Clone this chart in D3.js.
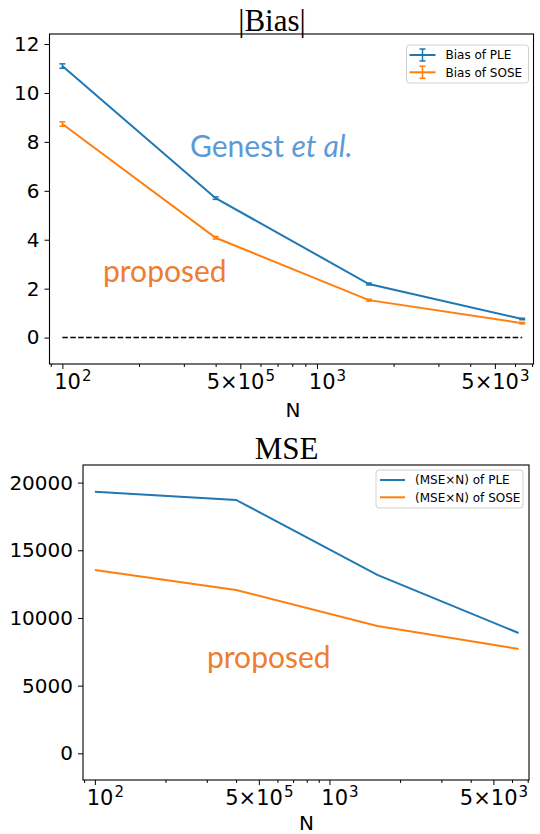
<!DOCTYPE html>
<html>
<head>
<meta charset="utf-8">
<script src="https://cdn.jsdelivr.net/npm/d3@7"></script>
<style>
	body { margin: 0; background: #fff; }
	svg text { font-family: "DejaVu Sans", sans-serif; fill: #000; }
	.tick text { font-size: 20px; }
	.x.axis .tick text { font-size: 21px; }
	.graphtitle { font-family: "Liberation Serif", serif !important; font-size: 31px; }
	.axistitle { font-size: 20px; }
	.legendtext { font-size: 12px; }
	.note { font-family: Lato, sans-serif !important; }
</style>
</head>
<body>
<svg class="figure" width="540" height="834"></svg>
<script>
/* Two panels: |Bias| with error bars and MSE x N, both against N on a log axis */

// sample sizes and estimates
var sampleN = [100, 400, 1600, 6400];
var biasPLE = [11.1, 5.70, 2.19, 0.76];
var biasPLEErr = [0.09, 0.05, 0.04, 0.03];
var biasSOSE = [8.73, 4.08, 1.53, 0.59];
var biasSOSEErr = [0.09, 0.05, 0.04, 0.03];
var mseNPLE = [19330, 18720, 13180, 8890];
var mseNSOSE = [13550, 12070, 9410, 7710];

// tick values and labels
var biasTicks = [0, 2, 4, 6, 8, 10, 12];
var mseTicks = [0, 5000, 10000, 15000, 20000];
var nTicks = [100, 500, 1000, 5000];
var nTickLabels = [["10", "2"], ["5×10", "5"], ["10", "3"], ["5×10", "3"]];

var blue = "#1f77b4",
	orange = "#ff7f0e";

var svg = d3.select(".figure");

drawPanel({
	box: { left: 49.5, top: 34, right: 533.5, bottom: 364 },
	yDomain: [-1.08, 12.41],
	yTicks: biasTicks,
	title: "|Bias|", titleX: 272, titleY: 31,
	xLabelX: 293, xLabelY: 417,
	series: [
		{ name: "Bias of PLE", values: biasPLE, err: biasPLEErr, color: blue },
		{ name: "Bias of SOSE", values: biasSOSE, err: biasSOSEErr, color: orange }
	],
	zeroLine: true,
	legend: { x: 406.5, y: 45, w: 122, h: 38, lineX: 3, lineW: 26, textX: 39, rowY: 10, rowH: 17.3 },
	notes: [
		{ parts: [["Genest ", "normal"], ["et al.", "italic"]], x: 190, y: 157, size: 30, color: "#5b9bd5" },
		{ parts: [["proposed", "normal"]], x: 103, y: 282, size: 30, color: "#ed7d31" }
	]
});

drawPanel({
	box: { left: 83, top: 465, right: 529, bottom: 780 },
	yDomain: [-1970, 21300],
	yTicks: mseTicks,
	title: "MSE", titleX: 286.5, titleY: 459,
	xLabelX: 306.5, xLabelY: 830,
	series: [
		{ name: "(MSE×N) of PLE", values: mseNPLE, color: blue },
		{ name: "(MSE×N) of SOSE", values: mseNSOSE, color: orange }
	],
	zeroLine: false,
	legend: { x: 376, y: 470, w: 147, h: 38, lineX: 4, lineW: 25, textX: 39, rowY: 10, rowH: 17.3 },
	notes: [
		{ parts: [["proposed", "normal"]], x: 207, y: 668, size: 30, color: "#ed7d31" }
	]
});


// Draw one panel from its layout options
function drawPanel(o) {

	var b = o.box;

	var x = d3.scaleLog()
		.domain([89, 7090])
		.range([b.left, b.right]);

	var y = d3.scaleLinear()
		.domain(o.yDomain)
		.range([b.bottom, b.top]);

	var g = svg.append("g");

	// minor ticks (every 1..9 x 10^k)
	var minor = x.ticks().filter(function(v) { return nTicks.indexOf(v) < 0; });
	g.append("g")
		.attr("transform", "translate(0," + b.bottom + ")")
		.call(d3.axisBottom(x).tickValues(minor).tickSize(3).tickFormat(""))
		.call(function(s) { s.select(".domain").remove(); });

	// labelled ticks
	var xAxis = g.append("g")
		.attr("class", "x axis")
		.attr("transform", "translate(0," + b.bottom + ")")
		.call(d3.axisBottom(x).tickValues(nTicks).tickSize(5).tickPadding(5).tickFormat(""));
	xAxis.select(".domain").remove();
	xAxis.selectAll(".tick text").each(function(d, i) {
		var t = d3.select(this),
			lab = nTickLabels[i],
			decade = Math.abs(Math.log10(d) % 1) < 1e-9;
		t.attr("dy", "0.71em")
			.attr("dx", decade ? 10 : 0);
		t.append("tspan").text(lab[0]);
		t.append("tspan")
			.attr("font-size", "15px")
			.attr("dx", 1)
			.attr("dy", "-0.5em")
			.text(lab[1]);
	});

	// y axis
	var yAxis = g.append("g")
		.attr("class", "y axis")
		.attr("transform", "translate(" + b.left + ",0)")
		.call(d3.axisLeft(y).tickValues(o.yTicks).tickSize(5).tickPadding(5).tickFormat(d3.format("d")));
	yAxis.select(".domain").remove();

	g.selectAll(".tick line").attr("stroke", "#000").attr("stroke-width", 1);

	// frame
	g.append("rect")
		.attr("x", b.left)
		.attr("y", b.top)
		.attr("width", b.right - b.left)
		.attr("height", b.bottom - b.top)
		.attr("fill", "none")
		.attr("stroke", "#000")
		.attr("stroke-width", 1.1);

	// dashed reference line at zero
	if (o.zeroLine) {
		g.append("line")
			.attr("x1", x(sampleN[0]))
			.attr("x2", x(sampleN[sampleN.length - 1]))
			.attr("y1", y(0))
			.attr("y2", y(0))
			.attr("stroke", "#000")
			.attr("stroke-width", 1.5)
			.attr("stroke-dasharray", "5.5,2.4");
	}

	var line = d3.line()
		.x(function(d, i) { return x(sampleN[i]); })
		.y(function(d) { return y(d); });

	o.series.forEach(function(s) {
		g.append("path")
			.datum(s.values)
			.attr("fill", "none")
			.attr("stroke", s.color)
			.attr("stroke-width", 2)
			.attr("d", line);

		if (s.err) {
			var eb = g.selectAll(null)
				.data(s.values)
			  .enter().append("g")
				.attr("stroke", s.color)
				.attr("stroke-width", 1.5);
			eb.append("line")
				.attr("x1", function(d, i) { return x(sampleN[i]); })
				.attr("x2", function(d, i) { return x(sampleN[i]); })
				.attr("y1", function(d, i) { return y(d - s.err[i]); })
				.attr("y2", function(d, i) { return y(d + s.err[i]); });
			[-1, 1].forEach(function(sign) {
				eb.append("line")
					.attr("x1", function(d, i) { return x(sampleN[i]) - 3; })
					.attr("x2", function(d, i) { return x(sampleN[i]) + 3; })
					.attr("y1", function(d, i) { return y(d + sign * s.err[i]); })
					.attr("y2", function(d, i) { return y(d + sign * s.err[i]); });
			});
		}
	});

	// title
	g.append("text")
		.attr("class", "graphtitle")
		.attr("x", o.titleX)
		.attr("y", o.titleY)
		.attr("text-anchor", "middle")
		.text(o.title);

	// x axis label
	g.append("text")
		.attr("class", "axistitle")
		.attr("x", o.xLabelX)
		.attr("y", o.xLabelY)
		.attr("text-anchor", "middle")
		.text("N");

	// legend
	var L = o.legend;
	var leg = g.append("g").attr("transform", "translate(" + L.x + "," + L.y + ")");
	leg.append("rect")
		.attr("width", L.w)
		.attr("height", L.h)
		.attr("rx", 3)
		.attr("fill", "#fff")
		.attr("fill-opacity", 0.8)
		.attr("stroke", "#d0d0d0");
	o.series.forEach(function(s, i) {
		var ry = L.rowY + i * L.rowH;
		leg.append("line")
			.attr("x1", L.lineX).attr("x2", L.lineX + L.lineW)
			.attr("y1", ry).attr("y2", ry)
			.attr("stroke", s.color).attr("stroke-width", 2);
		if (s.err) {
			var cx = L.lineX + L.lineW / 2;
			leg.append("path")
				.attr("d", "M" + (cx - 3) + "," + (ry - 6) + "h6M" + cx + "," + (ry - 6) + "v12M" + (cx - 3) + "," + (ry + 6) + "h6")
				.attr("fill", "none")
				.attr("stroke", s.color)
				.attr("stroke-width", 1.5);
		}
		leg.append("text")
			.attr("class", "legendtext")
			.attr("x", L.textX)
			.attr("y", ry)
			.attr("dy", "0.35em")
			.text(s.name);
	});

	// annotations
	o.notes.forEach(function(n) {
		var t = g.append("text")
			.attr("class", "note")
			.attr("x", n.x)
			.attr("y", n.y)
			.attr("font-size", n.size + "px");
		n.parts.forEach(function(p) {
			t.append("tspan")
				.attr("font-style", p[1])
				.style("fill", n.color)
				.text(p[0]);
		});
	});
}
</script>
</body>
</html>
